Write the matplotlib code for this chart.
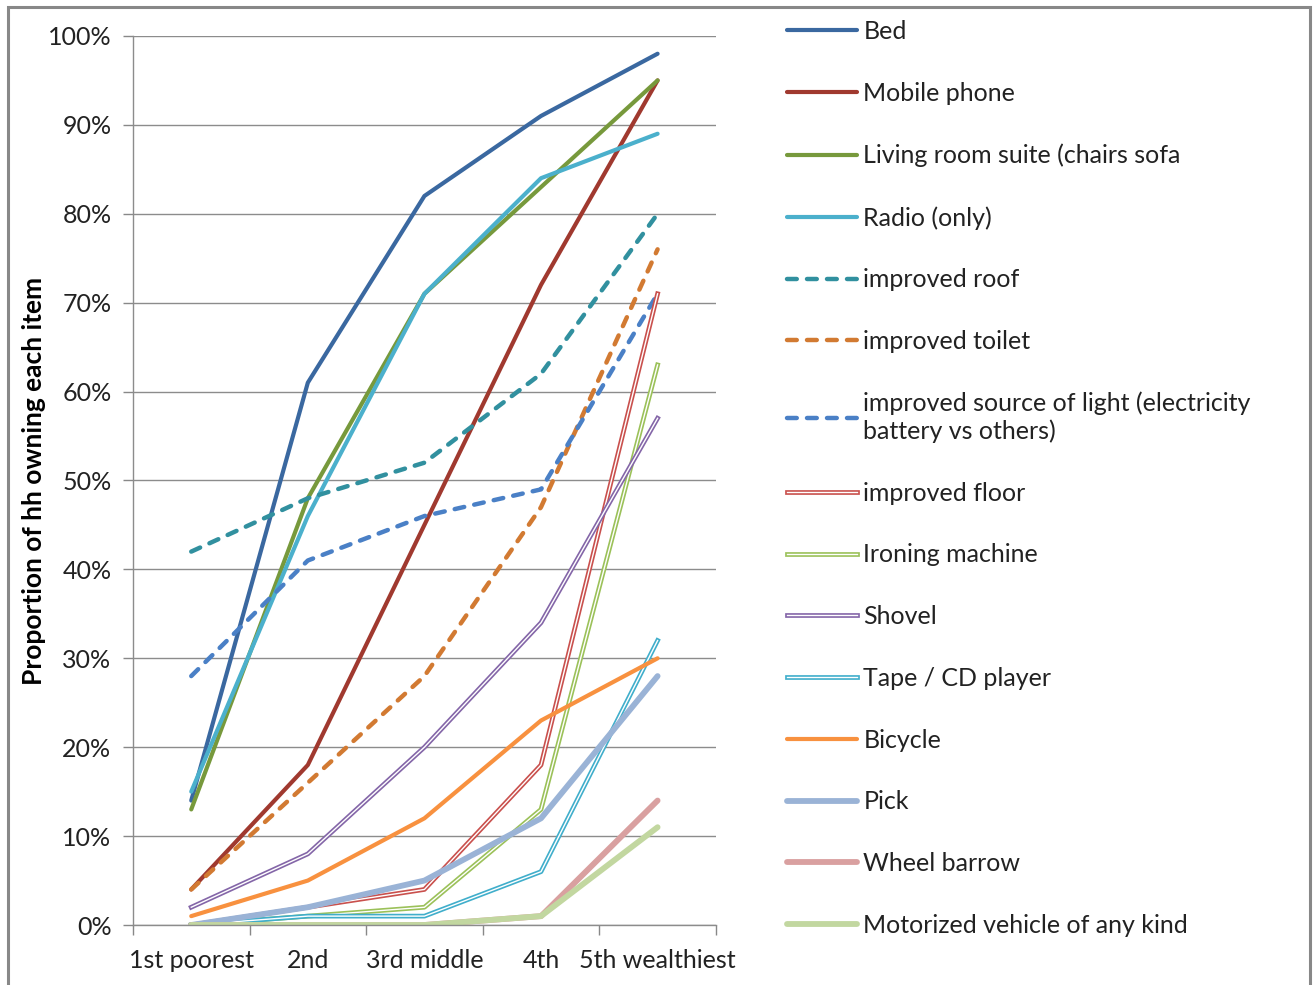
import matplotlib
matplotlib.use("Agg")
import matplotlib.pyplot as plt
import matplotlib.patheffects as pe
from matplotlib.patches import Rectangle
from matplotlib.ticker import FuncFormatter, MultipleLocator

plt.rcParams['font.family'] = ['Lato', 'DejaVu Sans']

quintiles = ["1st poorest", "2nd", "3rd middle", "4th", "5th wealthiest"]

bed = [14, 61, 82, 91, 98]
mobile_phone = [4, 18, 45, 72, 95]
living_room = [13, 48, 71, 83, 95]
radio = [15, 46, 71, 84, 89]
improved_roof = [42, 48, 52, 62, 80]
improved_toilet = [4, 16, 28, 47, 76]
improved_light = [28, 41, 46, 49, 71]
improved_floor = [0, 2, 4, 18, 71]
ironing = [0, 1, 2, 13, 63]
shovel = [2, 8, 20, 34, 57]
tape_cd = [0, 1, 1, 6, 32]
bicycle = [1, 5, 12, 23, 30]
pick = [0, 2, 5, 12, 28]
wheel_barrow = [0, 0, 0, 1, 14]
motorized = [0, 0, 0, 1, 11]

# (label, values, colour, style)  style: solid / dash / double / thick
series = [
    ("Bed", bed, "#3A68A0", "solid"),
    ("Mobile phone", mobile_phone, "#A0392F", "solid"),
    ("Living room suite (chairs sofa", living_room, "#77993C", "solid"),
    ("Radio (only)", radio, "#4BB0CC", "solid"),
    ("improved roof", improved_roof, "#31909F", "dash"),
    ("improved toilet", improved_toilet, "#D27A32", "dash"),
    ("improved source of light (electricity\nbattery vs others)", improved_light, "#4A80C6", "dash"),
    ("improved floor", improved_floor, "#C9504D", "double"),
    ("Ironing machine", ironing, "#9BC159", "double"),
    ("Shovel", shovel, "#8466A8", "double"),
    ("Tape / CD player", tape_cd, "#40AECB", "double"),
    ("Bicycle", bicycle, "#F8913F", "solid"),
    ("Pick", pick, "#9AB3D6", "thick"),
    ("Wheel barrow", wheel_barrow, "#D9A0A0", "thick"),
    ("Motorized vehicle of any kind", motorized, "#C2D7A0", "thick"),
]

fig = plt.figure(figsize=(13.15, 9.85), dpi=100)
ax = fig.add_axes([0.1011, 0.0609, 0.4433, 0.9026])

x = list(range(len(quintiles)))
for label, vals, color, style in series:
    if style == "solid":
        ax.plot(x, vals, color=color, lw=3.0, label=label, solid_capstyle="round")
    elif style == "dash":
        ax.plot(x, vals, color=color, lw=3.2, dashes=(2.2, 2.3), label=label,
                dash_capstyle="round")
    elif style == "double":
        ax.plot(x, vals, color="white", lw=1.0, label=label,
                path_effects=[pe.Stroke(linewidth=3.4, foreground=color), pe.Normal()])
    else:
        ax.plot(x, vals, color=color, lw=4.2, label=label, solid_capstyle="round")

ax.set_xlim(-0.5, 4.5)
ax.set_ylim(0, 100)
ax.set_xticks(x)
ax.set_xticklabels(quintiles)
ax.set_xticks([i - 0.5 for i in range(6)], minor=True)
ax.tick_params(axis="x", which="major", length=0, pad=17, labelsize=18, labelcolor="#222222")
ax.tick_params(axis="x", which="minor", length=7, width=1, color="#888888", direction="out")
ax.yaxis.set_major_locator(MultipleLocator(10))
ax.yaxis.set_major_formatter(FuncFormatter(lambda v, p: f"{int(v)}%"))
ax.tick_params(axis="y", length=7, width=1, color="#888888", direction="out",
               labelsize=18, labelcolor="#222222", pad=8.5)
ax.grid(axis="y", color="#8c8c8c", lw=1)
ax.set_axisbelow(True)
for s in ["top", "right"]:
    ax.spines[s].set_visible(False)
for s in ["left", "bottom"]:
    ax.spines[s].set_color("#8c8c8c")
    ax.spines[s].set_linewidth(1)

ax.set_ylabel("Proportion of hh owning each item", fontsize=19, fontweight="bold")
ax.yaxis.set_label_coords(-0.149, 0.5)

leg = ax.legend(loc="upper left", bbox_to_anchor=(1.105, 1.029), frameon=False,
                fontsize=18, handlelength=2.8, handletextpad=0.25,
                labelspacing=1.55, borderaxespad=0)
for t in leg.get_texts():
    t.set_color("#222222")

fig.patches.append(Rectangle((8 / 1315, -0.05), (1310 - 8) / 1315, 1 - 7 / 985 + 0.05,
                             transform=fig.transFigure, fill=False,
                             edgecolor="#888888", lw=2.2))

fig.savefig("out.png", dpi=100)
